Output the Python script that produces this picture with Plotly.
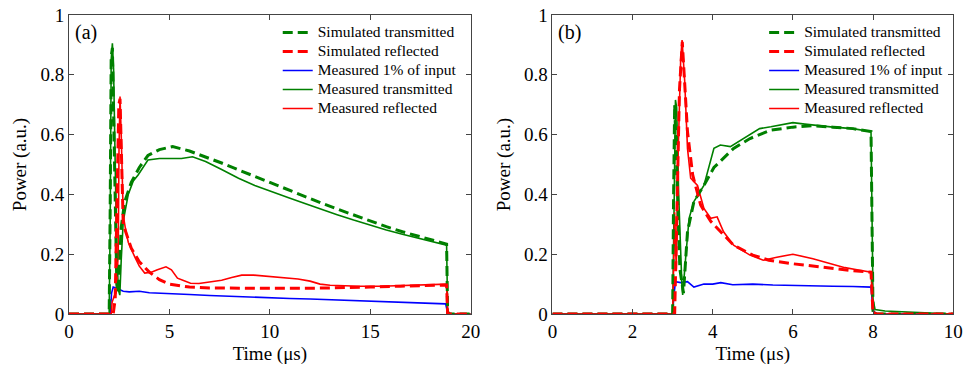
import plotly.graph_objects as go

# ---------------- Panel (a) ----------------
t_in_a = [0, 2.05, 2.12, 2.2, 2.4, 2.7, 3.0, 3.5, 4.0, 5, 6, 7, 8, 9, 10, 11, 12, 13, 14, 15, 16, 17, 18, 18.75, 18.85, 19.0, 20]
p_in_a = [0, 0, 0.07, 0.09, 0.085, 0.076, 0.074, 0.076, 0.071, 0.069, 0.065, 0.062, 0.059, 0.056, 0.053, 0.052, 0.05, 0.048, 0.046, 0.043, 0.041, 0.038, 0.036, 0.034, 0.005, 0, 0]

t_mt_a = [0, 2.0, 2.05, 2.1, 2.16, 2.22, 2.3, 2.38, 2.46, 2.53, 2.6, 2.7, 2.95, 3.2, 3.44, 3.7, 3.93, 4.5, 5.16, 5.6, 6.15, 6.8, 7.6, 8.44, 9.25, 10.07, 10.9, 11.71, 12.53, 13.35, 14.17, 15.0, 15.8, 16.6, 17.44, 18.1, 18.8, 18.85, 19.0, 20]
p_mt_a = [0, 0, 0.3, 0.85, 0.905, 0.82, 0.5, 0.2, 0.08, 0.063, 0.18, 0.31, 0.4, 0.445, 0.465, 0.49, 0.515, 0.52, 0.521, 0.52, 0.526, 0.51, 0.483, 0.454, 0.43, 0.409, 0.39, 0.37, 0.35, 0.332, 0.314, 0.297, 0.281, 0.267, 0.253, 0.242, 0.23, 0.01, 0, 0]

t_st_a = [0, 2.0, 2.05, 2.1, 2.16, 2.22, 2.3, 2.38, 2.45, 2.6, 2.77, 3.1, 3.5, 3.93, 4.5, 5.16, 6.0, 6.8, 7.6, 8.44, 9.25, 10.07, 10.9, 11.71, 12.53, 13.35, 14.17, 15.0, 15.8, 16.6, 17.44, 18.1, 18.8, 18.85, 19, 20]
p_st_a = [0, 0, 0.35, 0.86, 0.89, 0.7, 0.35, 0.1, 0.07, 0.29, 0.375, 0.44, 0.49, 0.53, 0.55, 0.56, 0.545, 0.526, 0.505, 0.482, 0.46, 0.437, 0.414, 0.392, 0.372, 0.351, 0.331, 0.311, 0.292, 0.275, 0.259, 0.247, 0.234, 0.0, 0, 0]

t_mr_a = [0, 2.1, 2.15, 2.25, 2.35, 2.45, 2.49, 2.54, 2.6, 2.7, 2.8, 2.95, 3.28, 3.5, 3.77, 4.1, 4.4, 4.83, 5.1, 5.4, 5.7, 6.05, 6.47, 7.0, 7.6, 8.1, 8.6, 9.2, 9.74, 10.5, 11.4, 12.0, 12.5, 13.0, 13.84, 14.5, 15.5, 16.5, 17.5, 18.6, 18.8, 18.85, 19, 20]
p_mr_a = [0, 0, 0.04, 0.06, 0.07, 0.2, 0.55, 0.727, 0.6, 0.33, 0.29, 0.24, 0.19, 0.16, 0.137, 0.14, 0.148, 0.158, 0.148, 0.12, 0.112, 0.103, 0.102, 0.106, 0.113, 0.122, 0.13, 0.13, 0.127, 0.122, 0.117, 0.11, 0.1, 0.096, 0.093, 0.093, 0.093, 0.095, 0.097, 0.1, 0.1, 0.005, 0, 0]

t_sr_a = [0, 2.2, 2.3, 2.4, 2.48, 2.54, 2.62, 2.7, 3.1, 3.5, 4.0, 4.5, 5.0, 6.0, 7.0, 8.0, 10, 12, 13.5, 15, 16.5, 18, 18.8, 18.85, 19, 20]
p_sr_a = [0, 0, 0.05, 0.4, 0.7, 0.72, 0.45, 0.3, 0.22, 0.175, 0.14, 0.115, 0.1, 0.09, 0.087, 0.086, 0.086, 0.086, 0.087, 0.09, 0.093, 0.096, 0.097, 0.0, 0, 0]

# ---------------- Panel (b) ----------------
t_in_b = [0, 3.0, 3.03, 3.07, 3.2, 3.37, 3.53, 3.78, 4.0, 4.2, 4.5, 5.0, 5.5, 6.0, 6.5, 7.0, 7.5, 7.95, 8.0, 8.1, 10]
p_in_b = [0, 0, 0.06, 0.108, 0.105, 0.108, 0.09, 0.1, 0.1, 0.105, 0.098, 0.1, 0.097, 0.095, 0.095, 0.093, 0.092, 0.09, 0.01, 0, 0]

t_mt_b = [0, 3.0, 3.04, 3.07, 3.1, 3.15, 3.23, 3.25, 3.33, 3.41, 3.53, 3.78, 4.03, 4.19, 4.44, 4.76, 5.17, 5.45, 5.8, 6.0, 6.3, 6.6, 7.0, 7.5, 7.95, 8.0, 8.05, 8.3, 9, 10]
p_mt_b = [0, 0, 0.4, 0.716, 0.69, 0.4, 0.097, 0.064, 0.197, 0.32, 0.376, 0.43, 0.554, 0.565, 0.56, 0.587, 0.62, 0.626, 0.635, 0.64, 0.635, 0.63, 0.625, 0.62, 0.61, 0.05, 0.015, 0.01, 0.005, 0.0]

t_st_b = [0, 3.0, 3.02, 3.05, 3.1, 3.18, 3.27, 3.37, 3.53, 3.78, 4.03, 4.52, 4.93, 5.45, 6.0, 6.5, 7.0, 7.5, 7.95, 8.0, 10]
p_st_b = [0, 0, 0.35, 0.70, 0.5, 0.15, 0.07, 0.275, 0.376, 0.43, 0.49, 0.554, 0.587, 0.615, 0.625, 0.63, 0.625, 0.62, 0.61, 0.0, 0.0]

t_mr_b = [0, 3.0, 3.05, 3.09, 3.14, 3.2, 3.235, 3.3, 3.37, 3.45, 3.62, 3.78, 3.95, 4.11, 4.27, 4.52, 4.93, 5.26, 5.6, 6.0, 6.5, 7.0, 7.3, 7.6, 7.95, 8.0, 8.1, 10]
p_mr_b = [0, 0, 0.34, 0.15, 0.55, 0.85, 0.916, 0.78, 0.554, 0.454, 0.43, 0.353, 0.32, 0.325, 0.275, 0.23, 0.197, 0.18, 0.19, 0.2, 0.185, 0.165, 0.155, 0.148, 0.14, 0.01, 0, 0]

t_sr_b = [0, 3.05, 3.1, 3.17, 3.24, 3.37, 3.5, 3.7, 3.95, 4.19, 4.52, 5.0, 5.4, 6.0, 6.5, 7.0, 7.5, 7.95, 8.0, 10]
p_sr_b = [0, 0, 0.3, 0.75, 0.91, 0.61, 0.465, 0.364, 0.31, 0.275, 0.23, 0.197, 0.18, 0.168, 0.16, 0.152, 0.145, 0.14, 0.0, 0.0]

legend_names = ["Simulated transmitted", "Simulated reflected", "Measured 1% of input",
                "Measured transmitted", "Measured reflected"]
x_ticks_a = [0, 5, 10, 15, 20]
x_ticks_b = [0, 2, 4, 6, 8, 10]
y_ticks = [0, 0.2, 0.4, 0.6, 0.8, 1]

GREEN = "#008000"
RED = "#ff0000"
BLUE = "#0000ff"
FONT = "Liberation Serif"
DASH = "10px,5px"

W, H = 974, 366


def px(xw):
    return xw / W


fig = go.Figure()

panels = [
    ("x", "y", "legend", [t_st_a, p_st_a, t_sr_a, p_sr_a, t_in_a, p_in_a, t_mt_a, p_mt_a, t_mr_a, p_mr_a]),
    ("x2", "y2", "legend2", [t_st_b, p_st_b, t_sr_b, p_sr_b, t_in_b, p_in_b, t_mt_b, p_mt_b, t_mr_b, p_mr_b]),
]
styles = [
    dict(color=GREEN, width=3, dash=DASH),
    dict(color=RED, width=3, dash=DASH),
    dict(color=BLUE, width=1.6),
    dict(color=GREEN, width=1.6),
    dict(color=RED, width=1.6),
]

order = [2, 3, 4, 0, 1]
for xa, ya, lg, d in panels:
    for i in order:
        fig.add_trace(go.Scatter(
            x=d[2 * i], y=d[2 * i + 1], mode="lines",
            name='<span style="font-size:15.5px">' + legend_names[i] + "</span>",
            line=styles[i], xaxis=xa, yaxis=ya, legend=lg,
            legendrank=i + 1, showlegend=True,
        ))

axis_common = dict(
    showgrid=False, zeroline=False, showline=True, linecolor="#444", linewidth=1,
    mirror="ticks", ticks="inside", ticklen=5, tickcolor="#444",
    tickfont=dict(family=FONT, size=19, color="black"), ticklabeloverflow="allow",
)
title_font = dict(family=FONT, size=19, color="black")

fig.update_layout(
    width=W, height=H,
    margin=dict(l=0, r=0, t=15, b=52),
    paper_bgcolor="white", plot_bgcolor="white",
    font=dict(family=FONT, color="black"),
    xaxis=dict(domain=[px(65), px(473)], range=[0, 20], tickvals=x_ticks_a,
               anchor="y", title=dict(text="Time (μs)", font=title_font, standoff=5), **axis_common),
    yaxis=dict(domain=[0, 1], range=[0, 1], tickvals=y_ticks,
               anchor="x", title=dict(text="Power (a.u.)", font=title_font, standoff=8), **axis_common),
    xaxis2=dict(domain=[px(556), px(963)], range=[0, 10], tickvals=x_ticks_b,
                anchor="y2", title=dict(text="Time (μs)", font=title_font, standoff=5), **axis_common),
    yaxis2=dict(domain=[0, 1], range=[0, 1], tickvals=y_ticks,
                anchor="x2", title=dict(text="Power (a.u.)", font=title_font, standoff=8), **axis_common),
    legend=dict(x=px(277), y=0.99, xanchor="left", yanchor="top", bgcolor="rgba(0,0,0,0)",
                font=dict(family=FONT, size=11.5), tracegroupgap=0, itemwidth=30),
    legend2=dict(x=px(771), y=0.99, xanchor="left", yanchor="top", bgcolor="rgba(0,0,0,0)",
                 font=dict(family=FONT, size=11.5), tracegroupgap=0, itemwidth=30),
    annotations=[
        dict(text="(a)", x=0.01, y=0.985, xref="x domain", yref="y domain", xanchor="left",
             yanchor="top", showarrow=False, font=dict(family=FONT, size=20)),
        dict(text="(b)", x=0.01, y=0.985, xref="x2 domain", yref="y2 domain", xanchor="left",
             yanchor="top", showarrow=False, font=dict(family=FONT, size=20)),
    ],
)

# remove the browser's default 8px body margin so the 974x366 figure fills the window
fig.write_html("out.html", config={"displayModeBar": False},
               post_script="document.body.style.margin='0';")
